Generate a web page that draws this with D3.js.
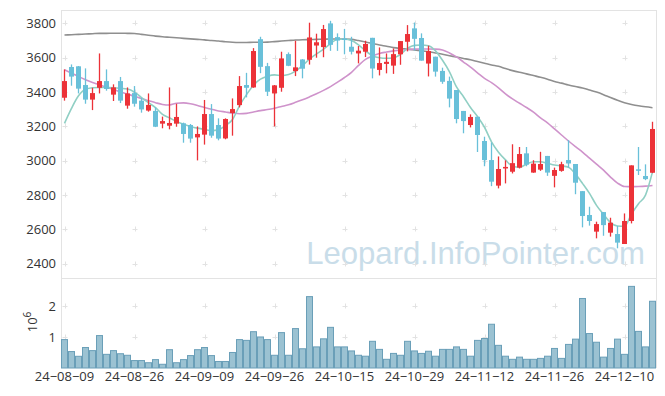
<!DOCTYPE html>
<html><head><meta charset="utf-8">
<script src="https://cdn.jsdelivr.net/npm/d3@7"></script>
<style>body{margin:0;background:#fff;} svg{display:block;font-family:"Open Sans",sans-serif;}</style>
</head><body><svg id="c" width="665" height="396"></svg>
<script>
const dates = [
"2024-08-09","2024-08-12","2024-08-13","2024-08-14","2024-08-16","2024-08-19","2024-08-20","2024-08-21","2024-08-22","2024-08-23",
"2024-08-26","2024-08-27","2024-08-28","2024-08-29","2024-08-30","2024-09-02","2024-09-03","2024-09-04","2024-09-05","2024-09-06",
"2024-09-09","2024-09-10","2024-09-11","2024-09-12","2024-09-13","2024-09-19","2024-09-20","2024-09-23","2024-09-24","2024-09-25",
"2024-09-26","2024-09-27","2024-09-30","2024-10-02","2024-10-04","2024-10-07","2024-10-08","2024-10-10","2024-10-11","2024-10-14",
"2024-10-15","2024-10-16","2024-10-17","2024-10-18","2024-10-21","2024-10-22","2024-10-23","2024-10-24","2024-10-25","2024-10-28",
"2024-10-29","2024-10-30","2024-10-31","2024-11-01","2024-11-04","2024-11-05","2024-11-06","2024-11-07","2024-11-08","2024-11-11",
"2024-11-12","2024-11-13","2024-11-14","2024-11-15","2024-11-18","2024-11-19","2024-11-20","2024-11-21","2024-11-22","2024-11-25",
"2024-11-26","2024-11-27","2024-11-28","2024-11-29","2024-12-02","2024-12-03","2024-12-04","2024-12-05","2024-12-06","2024-12-09",
"2024-12-10","2024-12-11","2024-12-12","2024-12-13","2024-12-16"];
const open = [3367,3546,3550,3441,3356,3425,3464,3385,3464,3321,3394,3350,3292,3290,3216,3204,3216,3218,3208,3136,
3152,3272,3208,3130,3278,3324,3441,3427,3708,3551,3392,3425,3621,3522,3590,3588,3671,3662,3800,3720,
3712,3664,3625,3635,3716,3529,3564,3554,3620,3693,3771,3715,3566,3606,3523,3465,3412,3290,3208,3256,
3115,3004,2855,2955,2936,2960,3043,2931,2948,3028,2912,2941,3004,2981,2823,2684,2587,2701,2581,2573,
2515,2649,2950,2911,2930];
const high = [3532,3561,3552,3538,3425,3625,3532,3445,3488,3427,3435,3367,3392,3311,3257,3427,3332,3222,3214,3200,
3354,3330,3247,3247,3363,3493,3512,3656,3722,3570,3441,3635,3631,3699,3592,3804,3740,3791,3815,3742,
3768,3722,3668,3699,3716,3660,3625,3654,3697,3790,3805,3742,3670,3606,3542,3490,3412,3290,3270,3256,
3140,3106,3025,3002,3096,3080,3080,3003,3052,3028,2960,2994,3120,2981,2823,2732,2645,2701,2668,2620,
2693,2973,3080,2979,3227];
const low = [3350,3437,3392,3332,3295,3392,3408,3348,3336,3303,3315,3280,3286,3196,3189,3183,3198,3105,3105,3002,
3094,3134,3119,3125,3146,3311,3369,3425,3510,3377,3200,3402,3551,3493,3480,3560,3600,3603,3640,3640,
3620,3619,3567,3604,3480,3497,3509,3506,3559,3637,3642,3583,3491,3490,3448,3311,3218,3160,3194,3051,
2968,2852,2839,2868,2926,2955,2968,2930,2941,2912,2845,2936,2960,2805,2612,2622,2548,2563,2558,2490,
2515,2635,2917,2887,2928];
const close = [3464,3490,3420,3356,3394,3464,3418,3427,3350,3392,3332,3299,3325,3198,3231,3220,3255,3156,3129,3156,
3272,3146,3129,3243,3301,3435,3425,3639,3547,3402,3439,3596,3553,3544,3536,3718,3690,3767,3675,3700,
3704,3635,3641,3680,3537,3569,3576,3621,3697,3738,3710,3583,3639,3519,3460,3362,3243,3231,3255,3150,
3004,2878,2952,2964,2986,3039,2977,2983,2981,2931,2946,2980,2984,2872,2678,2649,2631,2625,2639,2523,
2649,2973,2942,2893,3185];
// volume in millions
const volume = [0.915,0.53,0.377,0.66,0.56,1.045,0.44,0.56,0.46,0.41,
0.24,0.24,0.17,0.27,0.12,0.59,0.17,0.27,0.40,0.59,
0.66,0.40,0.21,0.21,0.50,0.915,0.89,1.17,1.0,0.915,
0.41,1.14,0.41,1.27,0.62,2.30,0.68,0.94,1.31,0.68,
0.68,0.55,0.41,0.38,0.86,0.60,0.28,0.47,0.41,0.86,
0.55,0.47,0.54,0.38,0.60,0.60,0.68,0.60,0.38,0.89,
0.95,1.41,0.73,0.38,0.28,0.35,0.28,0.28,0.31,0.38,
0.63,0.31,0.76,0.93,2.24,1.11,0.83,0.35,0.63,0.93,
0.44,2.63,1.18,0.68,2.15];
const maShort = [3218,3305,3378,3416,3425,3427,3426,3425,3422,3418,3400,3368,3338,3310,3270,3250,3228,3213,3200,3190,
3183,3175,3180,3205,3240,3320,3385,3440,3475,3492,3500,3496,3502,3522,3555,3592,3622,3650,3682,3708,
3708,3700,3675,3640,3612,3600,3597,3600,3620,3655,3672,3674,3670,3640,3585,3518,3430,3373,3310,3258,
3195,3110,3050,3005,2968,2962,2980,2994,2994,2985,2975,2970,2962,2922,2868,2810,2740,2688,2640,2620,
2618,2690,2750,2800,2935];
const maMid = [3530,3510,3490,3472,3456,3443,3428,3416,3400,3388,3375,3362,3350,3338,3328,3325,3335,3337,3332,3322,
3310,3300,3290,3284,3278,3274,3276,3284,3292,3298,3306,3316,3326,3340,3355,3372,3390,3410,3432,3458,
3485,3515,3555,3590,3610,3625,3633,3640,3645,3648,3650,3651,3651,3650,3645,3628,3605,3575,3545,3512,
3480,3455,3425,3390,3360,3335,3310,3283,3250,3220,3185,3150,3115,3082,3050,3015,2980,2945,2905,2870,
2850,2849,2850,2852,2856];
const maLong = [3732,3734,3736,3738,3740,3742,3742,3743,3743,3742,3741,3736,3731,3726,3722,3719,3716,3713,3710,3707,
3704,3700,3697,3693,3690,3689,3689,3690,3690,3691,3694,3697,3700,3703,3705,3706,3707,3708,3709,3709,
3709,3707,3700,3692,3683,3674,3667,3659,3654,3650,3646,3641,3635,3628,3620,3612,3604,3596,3588,3578,
3568,3558,3550,3537,3525,3515,3506,3496,3486,3475,3462,3452,3441,3432,3424,3412,3400,3385,3368,3352,
3338,3328,3320,3314,3309];
const priceTicks = [2400,2600,2800,3000,3200,3400,3600,3800];
const volTicks = [1,2];
const dateTickIdx = [0,10,20,30,40,50,60,70,80];
const watermark = "Leopard.InfoPointer.com";

const svg = d3.select("#c");
const L=61, R=656, T=10, M=278, B=368;
const n = dates.length;
const x = d3.scaleBand().domain(d3.range(n)).range([L,R]).padding(0);
const bw = x.bandwidth();
const xc = i => x(i) + bw/2;
const y = d3.scaleLinear().domain([2317,3878]).range([M,T]);
const yv = d3.scaleLinear().domain([0,2.9]).range([B,M]);

// watermark
svg.append("text").attr("x",645).attr("y",264).attr("text-anchor","end")
  .attr("font-family","'Liberation Sans',Arial,sans-serif")
  .attr("font-size",31.1).attr("fill","#c9dde9")
  .text(watermark);

// frame lines
const frame = svg.append("g").attr("stroke","#e3e3e3").attr("stroke-width",1);
frame.append("line").attr("x1",L).attr("x2",R).attr("y1",T+0.5).attr("y2",T+0.5);
frame.append("line").attr("x1",L).attr("x2",R).attr("y1",M+0.5).attr("y2",M+0.5);
frame.append("line").attr("x1",L+0.5).attr("x2",L+0.5).attr("y1",T).attr("y2",B);
frame.append("line").attr("x1",R+0.5).attr("x2",R+0.5).attr("y1",T).attr("y2",B);

// grid plus marks
const gp = svg.append("g").attr("stroke","#e2e2e2").attr("stroke-width",1);
const marks = [];
dateTickIdx.forEach(i => {
  priceTicks.forEach(v => marks.push([xc(i), y(v)]));
  volTicks.forEach(v => marks.push([xc(i), yv(v)]));
});
marks.forEach(([px,py]) => {
  gp.append("line").attr("x1",Math.round(px)-2.5).attr("x2",Math.round(px)+2.5).attr("y1",Math.round(py)+0.5).attr("y2",Math.round(py)+0.5);
  gp.append("line").attr("x1",Math.round(px)+0.5).attr("x2",Math.round(px)+0.5).attr("y1",Math.round(py)-2.5).attr("y2",Math.round(py)+2.5);
});

// volume bars
svg.append("g").selectAll("rect").data(volume).join("rect")
  .attr("x",(d,i)=>x(i)+0.5).attr("width",bw-1)
  .attr("y",d=>yv(d)).attr("height",d=>B-yv(d))
  .attr("fill","#9bc2d2").attr("stroke","#6a9fb8").attr("stroke-width",1);

// MA lines
const line = d3.line().x((d,i)=>xc(i)).y(d=>y(d)).curve(d3.curveMonotoneX);
[[maLong,"#8f8f8f"],[maMid,"#cf93cb"],[maShort,"#90cfc4"]].forEach(([arr,col])=>{
  svg.append("path").attr("d",line(arr)).attr("fill","none").attr("stroke",col).attr("stroke-width",1.6);
});

// candles
const up = "#ec3238", down = "#69c0d9";
const cg = svg.append("g");
d3.range(n).forEach(i => {
  const col = close[i] >= open[i] ? up : down;
  cg.append("line").attr("x1",xc(i)).attr("x2",xc(i)).attr("y1",y(high[i])).attr("y2",y(low[i]))
    .attr("stroke",col).attr("stroke-width",1.3);
  const top = y(Math.max(open[i],close[i])), bot = y(Math.min(open[i],close[i]));
  cg.append("rect").attr("x",x(i)+1).attr("width",bw-2).attr("y",top).attr("height",Math.max(1.5,bot-top)).attr("fill",col);
});

// axes
const fmt = s => s.slice(2).replace(/-/g,"\u2212");
const ya = svg.append("g").attr("transform",`translate(${L},0)`)
  .call(d3.axisLeft(y).tickValues(priceTicks).tickSize(0).tickPadding(5).tickFormat(d3.format("d")));
const yva = svg.append("g").attr("transform",`translate(${L},0)`)
  .call(d3.axisLeft(yv).tickValues(volTicks).tickSize(0).tickPadding(5).tickFormat(d3.format("d")));
const xa = svg.append("g").attr("transform",`translate(0,${B})`)
  .call(d3.axisBottom(x).tickValues(dateTickIdx).tickSize(0).tickPadding(4).tickFormat(i=>fmt(dates[i])));
[ya,yva,xa].forEach(g=>{
  g.select(".domain").remove();
  g.selectAll("text").attr("font-size",13).attr("fill","#333").attr("font-family","'Open Sans',sans-serif");
});

// volume unit label
const ul = svg.append("text").attr("transform","translate(37,322) rotate(-90)")
  .attr("text-anchor","middle").attr("font-size",13).attr("fill","#333");
ul.append("tspan").text("10");
ul.append("tspan").attr("dy",-6).attr("font-size",10).text("6");
</script></body></html>
